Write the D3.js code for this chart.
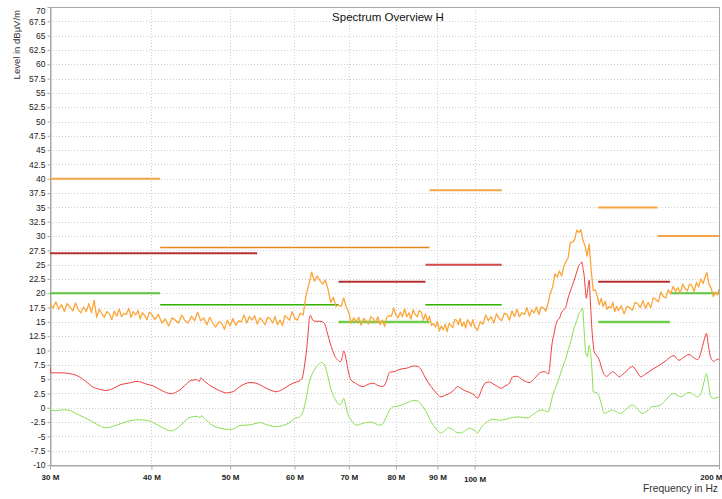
<!DOCTYPE html>
<html><head><meta charset="utf-8">
<script src="https://cdn.jsdelivr.net/npm/d3@7"></script>
<style>
body{margin:0;background:#fff;}
svg{display:block;}
text{font-family:"Liberation Sans",Arial,sans-serif;}
.tick text{font-family:"Liberation Sans Narrow","Liberation Sans",Arial,sans-serif;}
</style></head><body>
<svg id="c" width="722" height="499"></svg>
<script>
// ---- data ----
const title = "Spectrum Overview H";
const yLabel = "Level in dBµV/m";
const xLabel = "Frequency in Hz";
const xTicks = [30, 40, 50, 60, 70, 80, 90, 100, 200];           // MHz
const yTicks = [-10,-7.5,-5,-2.5,0,2.5,5,7.5,10,12.5,15,17.5,20,22.5,25,27.5,30,32.5,35,37.5,40,42.5,45,47.5,50,52.5,55,57.5,60,62.5,65,67.5,70];

// limit lines [startMHz, endMHz, level]
const limitOrangeA = [[30,41,40],[88,108,38],[142,168,35],[168,200,30]];
const limitOrangeB = [[41,88,28]];
const limitDarkRed = [[30,54,27],[68,87,22],[142,174,22]];
const limitRed     = [[87,108,25]];
const limitGreenA  = [[30,41,20],[174,200,20]];
const limitGreenB  = [[41,68,18],[87,108,18]];
const limitGreenC  = [[68,88,15],[142,174,15]];

// traces [MHz, dBµV/m]
const peakTrace = [
[30.0,18.1],[30.25,17.4],[30.5,18.5],[30.75,17.2],[31.0,18.0],[31.25,16.8],[31.5,18.2],[31.75,17.6],[32.0,16.9],[32.25,18.3],[32.5,17.1],[32.75,16.6],[33.0,17.6],[33.25,16.8],[33.5,18.2],[33.75,16.6],[34.0,18.8],[34.25,15.8],[34.5,17.2],[34.75,16.4],[35.0,15.8],[35.25,16.8],[35.5,16.4],[35.75,15.4],[36.0,16.9],[36.25,16.0],[36.5,17.2],[36.75,15.9],[37.0,16.5],[37.25,16.3],[37.5,17.4],[37.75,15.8],[38.0,16.8],[38.25,16.2],[38.5,17.0],[38.75,15.5],[39.0,16.6],[39.25,16.1],[39.5,15.4],[39.75,16.7],[40.0,16.4],
[40.4,15.4],[40.8,16.3],[41.2,14.8],[41.6,15.5],[42.0,14.3],[42.4,15.7],[42.8,15.3],[43.2,14.8],[43.6,16.2],[44.0,15.2],[44.4,14.8],[44.8,16.0],[45.2,15.2],[45.6,16.7],[46.0,15.2],[46.4,15.7],[46.8,14.5],[47.2,15.8],[47.6,14.8],[48.0,14.1],[48.4,15.0],[48.8,14.8],[49.2,13.7],[49.6,15.3],[50.0,14.3],[50.4,15.6],[50.8,14.4],[51.2,15.2],[51.6,15.0],[52.0,16.2],[52.4,14.8],[52.8,15.9],[53.2,15.3],[53.6,16.1],[54.0,14.6],[54.4,15.7],[54.8,15.2],[55.2,14.5],[55.6,15.8],[56.0,15.6],[56.4,14.8],[56.8,15.9],[57.2,14.5],[57.6,15.3],[58.0,14.4],[58.4,16.1],[58.8,15.7],[59.2,15.3],[59.6,16.8],[60.0,15.7],
[60.5,15.3],[61.0,16.5],[61.5,16.2],[62.0,19.6],[62.5,21.5],[63.0,23.7],[63.5,22.1],[64.0,23.0],[64.5,22.2],[65.0,21.6],[65.5,22.3],[66.0,20.7],[66.5,18.4],[67.0,19.3],[67.5,17.7],[68.0,17.9],[68.5,17.7],[69.0,19.2],[69.5,17.6],[70.0,16.6],[70.5,14.8],[71.0,15.7],[71.5,15.0],[72.0,15.8],[72.5,14.4],[73.0,15.6],[73.5,15.2],[74.0,14.6],[74.5,15.9],[75.0,15.6],[75.5,14.8],[76.0,15.9],[76.5,14.5],[77.0,15.3],[77.5,14.2],[78.0,15.9],[78.5,16.1],[79.0,16.0],[79.5,17.4],[80.0,16.2],[80.5,15.7],[81.0,16.7],[81.5,15.9],[82.0,17.3],[82.5,15.9],[83.0,16.6],[83.5,15.5],[84.0,17.1],[84.5,16.3],[85.0,15.9],[85.5,17.0],[86.0,16.7],[86.5,15.3],[87.0,16.4],[87.5,15.1],[88.0,16.0],[88.5,14.4],[89.0,14.7],[89.5,14.1],[90.0,15.1],[90.5,13.4],[91.0,14.3],[91.5,13.6],[92.0,14.6],[92.5,13.3],[93.0,14.7],[93.5,14.4],[94.0,14.0],[94.5,15.4],[95.0,15.3],[95.5,14.5],[96.0,15.6],[96.5,14.2],[97.0,15.0],[97.5,13.9],[98.0,15.4],[98.5,14.9],[99.0,14.2],[99.5,15.4],[100.0,14.2],
[100.8,13.5],[101.6,15.0],[102.4,14.6],[103.2,16.2],[104.0,15.2],[104.8,15.9],[105.6,14.8],[106.4,16.4],[107.2,15.6],[108.0,15.2],[108.8,16.5],[109.6,16.3],[110.4,15.3],[111.2,16.9],[112.0,15.9],[112.8,17.2],[113.6,15.9],[114.4,16.6],[115.2,16.3],[116.0,17.5],[116.8,16.0],[117.6,17.1],[118.4,16.6],[119.2,17.6],[120.0,16.3],[120.8,17.6],[121.6,17.4],[122.4,16.9],[123.2,18.3],[124.0,20.1],[124.8,21.1],[125.6,23.4],[126.4,22.8],[127.2,23.9],[128.0,23.0],[128.8,24.7],[129.6,25.5],[130.4,26.2],[131.2,28.9],[132.0,28.9],[132.8,29.3],[133.6,31.0],[134.4,30.6],[135.2,31.1],[136.0,29.2],[136.8,28.3],[137.6,26.5],[138.4,28.6],[139.2,23.9],[140.0,20.5],[140.8,20.6],[141.6,19.6],[142.4,18.0],[143.2,19.1],[144.0,17.7],[144.8,18.6],[145.6,17.2],[146.4,17.7],[147.2,17.4],[148.0,18.4],[148.8,16.8],[149.6,17.7],[150.4,17.0],
[151.6,17.8],[152.8,16.4],[154.0,17.7],[155.2,17.5],[156.4,17.0],[157.6,18.4],[158.8,18.2],[160.0,17.5],[161.2,18.7],[162.4,17.4],[163.6,18.4],[164.8,17.5],[166.0,19.2],[167.2,18.9],[168.4,18.5],[169.6,20.2],[170.8,19.4],[172.0,19.2],[173.2,20.6],[174.4,19.9],[175.6,21.2],[176.8,20.3],[178.0,21.0],[179.2,20.0],[180.4,21.6],[181.6,20.9],[182.8,20.4],[184.0,21.6],[185.2,21.3],[186.4,20.3],[187.6,21.9],[188.8,21.1],[190.0,22.5],[191.2,21.7],[192.4,23.0],[193.2,23.6],[194.4,21.6],[195.6,20.9],[196.8,19.4],[198.0,20.2],[199.2,19.7],[200.0,20.7]
];
const qpTrace = [
[30.0,7.1],[30.1,6.1],[30.5,6.1],[31.1,6.1],[31.6,6.0],[32.4,5.6],[33.2,4.6],[33.9,3.6],[34.6,3.2],[35.1,3.0],[35.8,3.3],[36.6,4.0],[37.5,4.3],[38.4,4.6],[39.5,4.1],[40.2,3.8],[41.2,3.0],[42.3,2.45],[43.0,2.8],[43.6,3.4],[44.2,4.2],[44.8,4.8],[45.5,4.9],[45.8,4.6],[46.0,5.2],[46.5,4.6],[47.6,3.6],[48.5,3.0],[49.5,2.6],[50.4,2.8],[51.4,3.7],[52.9,4.4],[53.8,4.3],[54.4,4.0],[55.6,3.3],[57.0,2.8],[58.0,3.2],[59.2,4.0],[60.3,4.5],[60.9,4.7],[61.4,5.4],[61.8,7.8],[62.1,10.1],[62.4,13.3],[62.6,15.6],[62.8,16.1],[63.2,15.3],[63.8,15.1],[64.5,15.1],[65.3,14.8],[65.8,13.3],[66.6,10.7],[67.3,9.0],[67.9,8.3],[68.3,8.0],[68.7,8.8],[69.0,9.9],[69.3,9.2],[69.6,7.8],[70.0,6.0],[70.4,4.9],[71.3,4.3],[72.9,3.7],[74.0,4.1],[75.0,4.3],[76.0,3.9],[77.1,3.7],[77.8,4.5],[78.6,6.2],[79.6,6.3],[80.8,6.7],[82.4,6.9],[84.3,7.3],[85.2,7.2],[85.9,6.7],[87.0,5.2],[88.4,3.7],[89.7,2.6],[90.9,1.9],[92.0,2.2],[93.1,2.5],[94.2,3.0],[95.3,3.7],[96.2,3.4],[97.2,3.0],[98.5,2.7],[99.9,2.2],[100.9,1.7],[101.6,2.5],[102.4,3.7],[103.3,4.4],[104.3,4.5],[105.3,4.2],[106.5,3.8],[107.8,3.4],[109.0,3.8],[110.4,4.3],[111.4,5.4],[112.8,5.5],[114.5,4.9],[116.8,4.4],[118.5,5.1],[120.7,6.2],[122.0,6.3],[123.3,5.9],[123.8,7.4],[124.2,9.5],[124.7,11.6],[125.3,13.0],[125.9,14.4],[126.5,15.3],[127.2,15.6],[128.0,16.7],[128.8,17.1],[129.6,17.7],[130.4,19.2],[131.2,20.4],[132.0,21.4],[132.8,22.5],[133.6,23.7],[134.5,24.9],[135.2,25.2],[135.6,25.5],[136.0,24.3],[136.5,22.9],[136.9,20.7],[137.3,19.1],[137.8,20.6],[138.4,22.3],[138.8,19.2],[139.5,13.6],[140.0,11.0],[140.4,9.8],[141.2,9.2],[142.4,8.4],[143.4,6.9],[144.4,5.8],[145.5,5.5],[146.5,5.8],[147.8,6.3],[149.3,5.9],[150.7,5.4],[152.1,5.8],[153.6,6.3],[155.0,6.9],[156.5,7.2],[158.3,6.4],[160.2,5.4],[162.0,5.8],[164.0,6.3],[166.0,6.8],[167.9,7.2],[170.3,7.8],[172.0,8.2],[173.6,8.7],[176.1,9.1],[177.3,8.6],[178.6,8.3],[181.0,8.8],[183.7,9.3],[186.0,8.8],[188.1,8.4],[189.5,9.1],[190.8,10.7],[192.0,12.1],[193.0,13.0],[194.0,11.0],[195.4,8.7],[197.2,8.1],[198.5,8.4],[200.0,8.5]
];
const avgTrace = [
[30.0,0.35],[30.1,-0.5],[30.5,-0.5],[31.1,-0.35],[31.6,-0.4],[32.4,-1.1],[33.2,-1.8],[33.9,-2.5],[34.6,-3.2],[35.1,-3.5],[35.8,-3.3],[36.6,-2.8],[37.6,-2.3],[38.4,-2.1],[39.5,-2.2],[40.2,-2.6],[41.2,-3.4],[42.3,-4.05],[43.0,-3.6],[43.6,-2.9],[44.2,-2.0],[44.8,-1.6],[45.6,-1.5],[45.9,-1.7],[46.1,-1.4],[46.5,-1.9],[47.6,-3.1],[48.7,-3.6],[49.9,-3.8],[50.5,-3.7],[51.4,-3.1],[52.9,-3.0],[54.4,-2.6],[55.6,-3.0],[57.0,-3.3],[58.3,-3.0],[59.2,-2.6],[60.0,-1.9],[60.9,-1.6],[61.4,-0.9],[62.0,1.4],[62.6,4.5],[63.3,6.3],[64.1,7.4],[64.8,7.9],[65.3,7.6],[65.7,6.5],[66.6,3.1],[67.2,1.8],[67.9,0.7],[68.2,0.5],[68.6,0.9],[69.0,1.65],[69.3,0.8],[69.8,-1.1],[70.3,-1.9],[71.5,-3.05],[72.9,-2.7],[74.3,-2.5],[75.3,-2.7],[76.4,-3.05],[77.1,-2.8],[77.8,-1.7],[78.6,-0.4],[79.5,0.2],[80.5,0.3],[82.4,0.8],[84.3,1.3],[85.3,1.1],[86.3,0.2],[87.2,-0.7],[88.0,-1.9],[89.0,-3.1],[90.0,-3.9],[90.8,-4.4],[91.8,-4.1],[92.8,-3.5],[93.8,-3.7],[95.0,-4.3],[96.3,-4.4],[97.5,-3.9],[98.5,-3.6],[99.9,-3.9],[100.9,-4.4],[101.8,-3.5],[103.3,-2.6],[105.3,-2.0],[107.3,-2.2],[109.5,-2.0],[111.4,-1.7],[113.5,-1.6],[116.0,-1.8],[118.5,-1.0],[120.7,-0.4],[122.0,-0.5],[123.3,-0.7],[124.2,0.9],[125.0,2.5],[126.0,3.7],[127.5,5.8],[128.8,7.7],[129.6,8.8],[130.6,10.4],[131.5,11.8],[132.4,13.6],[133.5,15.0],[134.5,16.5],[135.2,16.9],[135.8,17.4],[136.4,13.8],[137.0,9.8],[137.7,8.9],[138.4,10.9],[139.1,8.9],[139.6,5.9],[140.0,2.8],[141.5,2.6],[142.4,1.9],[143.4,0.4],[144.4,-1.0],[146.0,-0.7],[147.8,-0.4],[149.5,-0.7],[151.4,-1.0],[153.5,-0.3],[156.5,0.5],[158.5,-0.1],[160.8,-1.0],[163.0,-0.6],[165.6,0.2],[168.0,0.3],[169.6,0.5],[172.0,1.35],[174.5,2.3],[176.1,2.5],[178.0,2.1],[179.5,1.9],[181.5,2.3],[183.7,2.7],[186.0,2.3],[188.1,1.9],[190.0,2.5],[190.8,3.4],[192.0,4.9],[193.0,6.0],[194.0,4.4],[195.4,1.9],[197.2,1.65],[200.0,1.9]
];

// ---- drawing ----
const L = 50, R = 719, T = 7, B = 465;
const svg = d3.select("#c");
const x = d3.scaleLog().domain([30, 200]).range([L, R]);
const y = d3.scaleLinear().domain([-10, 70]).range([B, T]);

svg.append("defs").append("clipPath").attr("id", "clip")
  .append("rect").attr("x", L).attr("y", T).attr("width", R - L).attr("height", B - T);

// grid
const grid = svg.append("g").attr("stroke", "#cfcfcf").attr("stroke-dasharray", "1,2").attr("shape-rendering", "crispEdges");
grid.selectAll("line.h").data(yTicks).join("line").attr("class", "h")
  .attr("x1", L).attr("x2", R).attr("y1", d => Math.round(y(d)) + 0.5).attr("y2", d => Math.round(y(d)) + 0.5);
grid.selectAll("line.v").data(xTicks).join("line").attr("class", "v")
  .attr("y1", T).attr("y2", B).attr("x1", d => Math.round(x(d)) + 0.5).attr("x2", d => Math.round(x(d)) + 0.5);

// frame
svg.append("rect").attr("x", L + 0.5).attr("y", T + 0.5).attr("width", R - L).attr("height", B - T)
  .attr("fill", "none").attr("stroke", "#a8a8a8").attr("shape-rendering", "crispEdges");

// axes
const yAxis = svg.append("g").attr("transform", `translate(${L + 0.5},0)`)
  .call(d3.axisLeft(y).tickValues(yTicks).tickSize(3).tickSizeOuter(0).tickPadding(2)
    .tickFormat(d => (d % 1 === 0 ? String(d) : d.toFixed(1))));
const xAxis = svg.append("g").attr("transform", `translate(0,${B + 0.5})`)
  .call(d3.axisBottom(x).tickValues(xTicks).tickSize(4).tickSizeOuter(0).tickPadding(5)
    .tickFormat(d => d + " M"));
[yAxis, xAxis].forEach(a => {
  a.select(".domain").attr("stroke", "#a8a8a8");
  a.selectAll(".tick line").attr("stroke", "#a8a8a8");
  a.selectAll(".tick text").attr("fill", "#222").attr("font-size", 8.5);
});
xAxis.selectAll(".tick text").attr("font-weight", "bold").attr("font-size", 8);
yAxis.selectAll(".tick").filter(d => d === 70).select("text").attr("y", 4);
xAxis.selectAll(".tick").filter(d => d === 200).select("text").attr("text-anchor", "end").attr("x", 3);
xAxis.selectAll(".tick").filter(d => d === 100).select("text").attr("dy", "0.9em");

const plot = svg.append("g").attr("clip-path", "url(#clip)");
const line = d3.line().x(d => x(d[0])).y(d => y(d[1]));
const smooth = d3.line().x(d => x(d[0])).y(d => y(d[1])).curve(d3.curveMonotoneX);

function limits(data, color, width) {
  plot.append("g").selectAll("line").data(data).join("line")
    .attr("x1", d => x(d[0])).attr("x2", d => x(d[1]))
    .attr("y1", d => y(d[2])).attr("y2", d => y(d[2]))
    .attr("stroke", color).attr("stroke-width", width);
}
limits(limitOrangeA, "#f6a545", 2);
limits(limitOrangeB, "#e8871c", 1.5);
limits(limitDarkRed, "#b43030", 2);
limits(limitRed, "#d24a4a", 2);
limits(limitGreenA, "#5ec23e", 2);
limits(limitGreenB, "#2db300", 1.6);
limits(limitGreenC, "#6fcf4c", 2.5);

plot.append("path").datum(avgTrace).attr("d", smooth).attr("fill", "none").attr("stroke", "#8ade52").attr("stroke-width", 1);
plot.append("path").datum(qpTrace).attr("d", smooth).attr("fill", "none").attr("stroke", "#f03c3c").attr("stroke-width", 1);
plot.append("path").datum(peakTrace).attr("d", line).attr("fill", "none").attr("stroke", "#fba53a").attr("stroke-width", 1.3).attr("stroke-linejoin", "round");

// texts
svg.append("text").attr("x", 388).attr("y", 21).attr("text-anchor", "middle")
  .attr("font-size", 11.5).attr("fill", "#111").text(title);
svg.append("text").attr("transform", "translate(20,10) rotate(-90)").attr("text-anchor", "end")
  .attr("font-size", 9.5).attr("fill", "#333").text(yLabel);
svg.append("text").attr("x", 718).attr("y", 492).attr("text-anchor", "end")
  .attr("font-size", 10.3).attr("fill", "#333").text(xLabel);
</script></body></html>
